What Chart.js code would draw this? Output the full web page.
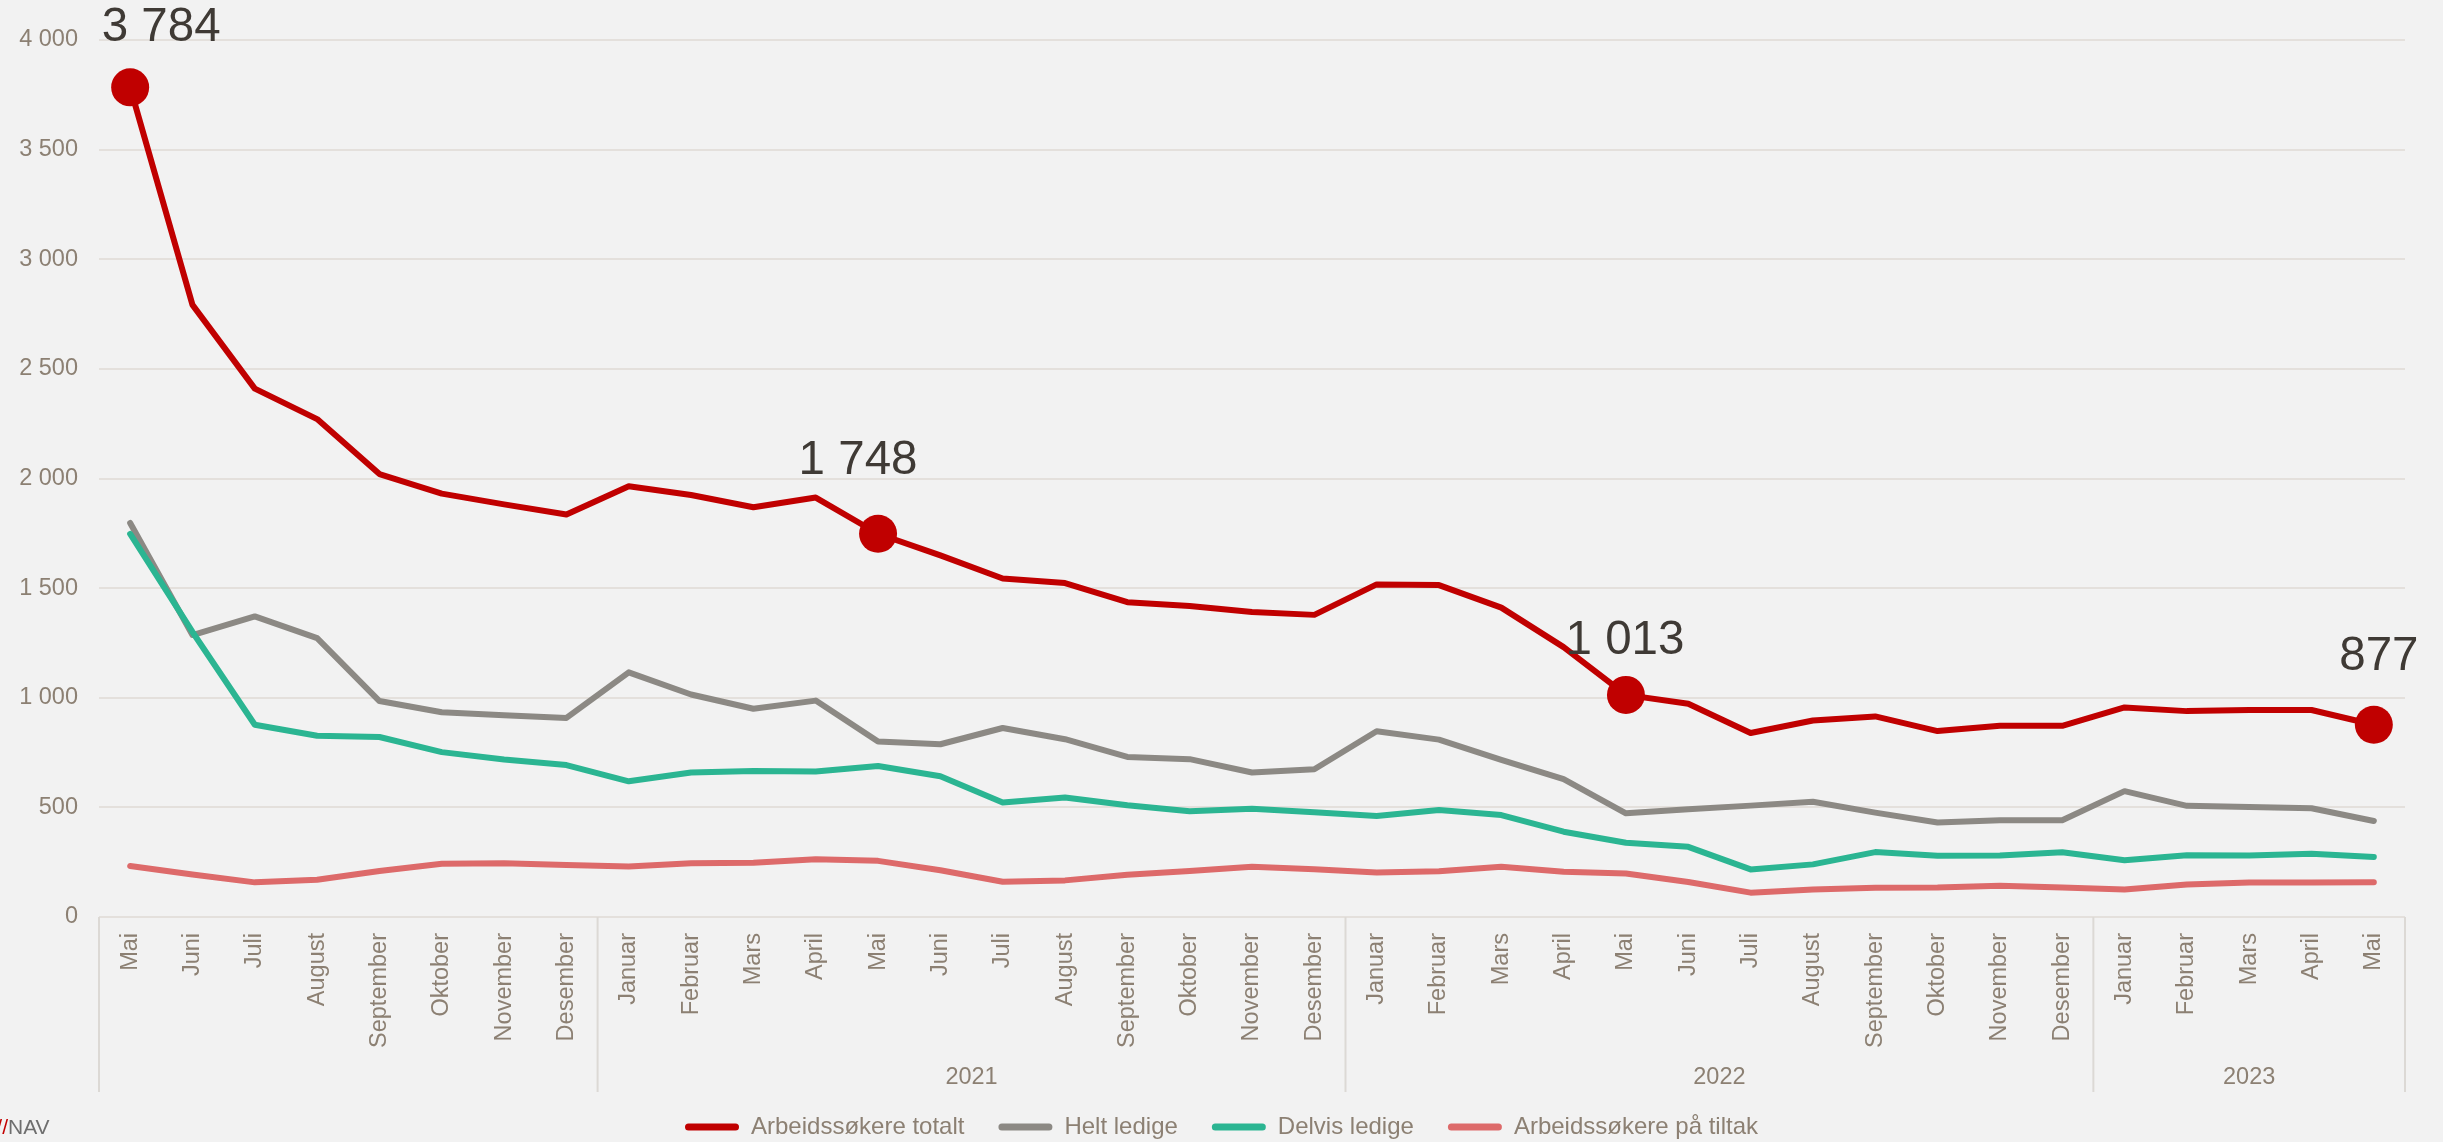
<!DOCTYPE html>
<html lang="no">
<head>
<meta charset="utf-8">
<title>Arbeidssøkere</title>
<script src="https://cdn.jsdelivr.net/npm/chart.js@4.4.1/dist/chart.umd.min.js"></script>
<style>
  html, body { margin: 0; padding: 0; background: #f2f2f2; overflow: hidden; }
  #wrap { position: relative; width: 2443px; height: 1142px; }
</style>
</head>
<body>
<div id="wrap"><canvas id="chart"></canvas></div>
<script>
const months = [
  'Mai', 'Juni', 'Juli', 'August', 'September', 'Oktober', 'November', 'Desember',
  'Januar', 'Februar', 'Mars', 'April', 'Mai', 'Juni', 'Juli', 'August', 'September', 'Oktober', 'November', 'Desember',
  'Januar', 'Februar', 'Mars', 'April', 'Mai', 'Juni', 'Juli', 'August', 'September', 'Oktober', 'November', 'Desember',
  'Januar', 'Februar', 'Mars', 'April', 'Mai'
];
const yearGroups = ['', '2021', '2022', '2023'];
const groupSizes = [8, 12, 12, 5];

const totalt = [
  3784, 2792, 2410, 2271, 2020, 1931, 1882, 1836,
  1965, 1925, 1869, 1913, 1748, 1649, 1544, 1523, 1436, 1418, 1391, 1378,
  1517, 1514, 1411, 1231, 1013, 973, 839, 896, 915, 848, 872, 872,
  956, 939, 944, 944, 877
];
const heltLedige = [
  1797, 1286, 1371, 1272, 985, 934, 920, 908,
  1116, 1015, 950, 987, 800, 788, 862, 811, 730, 720, 659, 674,
  847, 809, 717, 629, 473, 491, 508, 526, 476, 431, 441, 441,
  574, 507, 502, 496, 438
];
const delvisLedige = [
  1747, 1300, 877, 827, 821, 752, 718, 693,
  619, 659, 666, 664, 689, 642, 522, 545, 510, 482, 494, 478,
  461, 488, 465, 389, 339, 320, 217, 240, 296, 279, 280, 295,
  259, 282, 280, 289, 274
];
const tiltak = [
  233, 194, 158, 170, 210, 243, 245, 237,
  230, 245, 247, 263, 256, 213, 161, 167, 193, 210, 229, 218,
  203, 209, 229, 206, 198, 160, 111, 125, 133, 134, 142, 134,
  125, 148, 157, 157, 158
];
const markedPoints = [0, 12, 24, 36];
const yTicks = [0, 500, 1000, 1500, 2000, 2500, 3000, 3500, 4000];

const family = '"Liberation Sans", Arial, sans-serif';
const textColor = '#8c8073';
const fmt = v => String(Math.round(v)).replace(/\B(?=(\d{3})+(?!\d))/g, ' ');

// value labels above the red markers
const pointLabels = {
  id: 'pointLabels',
  afterDatasetsDraw(chart, args, opts) {
    const meta = chart.getDatasetMeta(0);
    const ctx = chart.ctx;
    ctx.save();
    ctx.font = '47.5px ' + family;
    ctx.fillStyle = '#3f3a35';
    ctx.textAlign = 'center';
    ctx.textBaseline = 'alphabetic';
    markedPoints.forEach((i, k) => {
      const pt = meta.data[i];
      const [dx, dy] = opts.offsets[k];
      ctx.fillText(fmt(totalt[i]), pt.x + dx, pt.y + dy);
    });
    ctx.restore();
  }
};

// year row + group separators under the month labels
const yearAxis = {
  id: 'yearAxis',
  afterDraw(chart) {
    const { ctx, chartArea, scales: { x } } = chart;
    const half = (x.getPixelForValue(1) - x.getPixelForValue(0)) / 2;
    const top = chartArea.bottom;
    ctx.save();
    ctx.strokeStyle = '#dcd9d5';
    ctx.lineWidth = 2;
    ctx.fillStyle = textColor;
    ctx.font = '23.5px ' + family;
    ctx.textAlign = 'center';
    ctx.textBaseline = 'middle';
    const edges = [x.getPixelForValue(0) - half];
    let start = 0;
    groupSizes.forEach((n, g) => {
      const left = x.getPixelForValue(start) - half;
      const right = x.getPixelForValue(start + n - 1) + half;
      edges.push(right);
      if (yearGroups[g]) ctx.fillText(yearGroups[g], (left + right) / 2, top + 161);
      start += n;
    });
    edges.forEach(px => {
      ctx.beginPath();
      ctx.moveTo(px, top);
      ctx.lineTo(px, top + 175);
      ctx.stroke();
    });
    ctx.restore();
  }
};

// keep the legend centred on the whole canvas
const legendCentre = {
  id: 'legendCentre',
  afterLayout(chart) {
    chart.legend.left = chart.width - chart.legend.right;
  }
};

const source = {
  id: 'source',
  afterDraw(chart) {
    const ctx = chart.ctx;
    const y = chart.height - 14;
    ctx.save();
    ctx.font = '21px ' + family;
    ctx.textBaseline = 'middle';
    ctx.textAlign = 'right';
    ctx.fillStyle = '#c30000';
    ctx.fillText('//', 8, y);
    ctx.textAlign = 'left';
    ctx.fillStyle = '#6e6e6e';
    ctx.fillText('NAV', 8, y);
    ctx.restore();
  }
};

const markerRadius = c => markedPoints.includes(c.dataIndex) ? 19 : 0;

new Chart(document.getElementById('chart'), {
  type: 'line',
  data: {
    labels: months,
    datasets: [
      { label: 'Arbeidssøkere totalt', data: totalt, borderColor: '#c00000', backgroundColor: '#c00000', order: 4, pointRadius: markerRadius, pointHoverRadius: markerRadius },
      { label: 'Helt ledige', data: heltLedige, borderColor: '#8c8984', backgroundColor: '#8c8984', order: 3 },
      { label: 'Delvis ledige', data: delvisLedige, borderColor: '#2bb592', backgroundColor: '#2bb592', order: 2 },
      { label: 'Arbeidssøkere på tiltak', data: tiltak, borderColor: '#dd6a6a', backgroundColor: '#dd6a6a', order: 1 },
    ],
  },
  options: {
    responsive: true,
    maintainAspectRatio: false,
    animation: false,
    events: [],
    layout: { padding: { top: 40, left: 19, right: 38, bottom: -7 } },
    elements: {
      line: { borderWidth: 6, tension: 0, fill: false, borderCapStyle: 'round', borderJoinStyle: 'round' },
      point: { radius: 0, hoverRadius: 0, borderWidth: 0 },
    },
    scales: {
      x: {
        offset: true,
        grid: { display: false, drawTicks: false },
        border: { display: false },
        ticks: { autoSkip: false, minRotation: 90, maxRotation: 90, padding: 16, color: textColor, font: { size: 23.5, family } },
        afterFit: s => { s.height = 164; },
      },
      y: {
        min: 0,
        max: 4000,
        afterBuildTicks: s => { s.ticks = yTicks.map(v => ({ value: v })); },
        grid: { color: '#e4e0dc', lineWidth: 2, drawTicks: false },
        border: { display: false },
        ticks: { padding: 21, color: textColor, font: { size: 23.5, family }, callback: v => fmt(v) },
        afterFit: s => { s.width = 80; },
      },
    },
    plugins: {
      legend: {
        position: 'bottom',
        labels: {
          boxWidth: 54,
          boxHeight: 7,
          padding: 34,
          useBorderRadius: true,
          borderRadius: 3.5,
          color: textColor,
          font: { size: 24, family },
          sort: (a, b) => a.datasetIndex - b.datasetIndex,
          generateLabels: chart => Chart.defaults.plugins.legend.labels.generateLabels(chart)
            .map(l => ({ ...l, lineWidth: 0 })),
        },
      },
      tooltip: { enabled: false },
      pointLabels: { offsets: [[31, -46], [-20, -60], [-1, -41], [5, -55]] },
    },
  },
  plugins: [pointLabels, yearAxis, legendCentre, source],
});
</script>
</body>
</html>
